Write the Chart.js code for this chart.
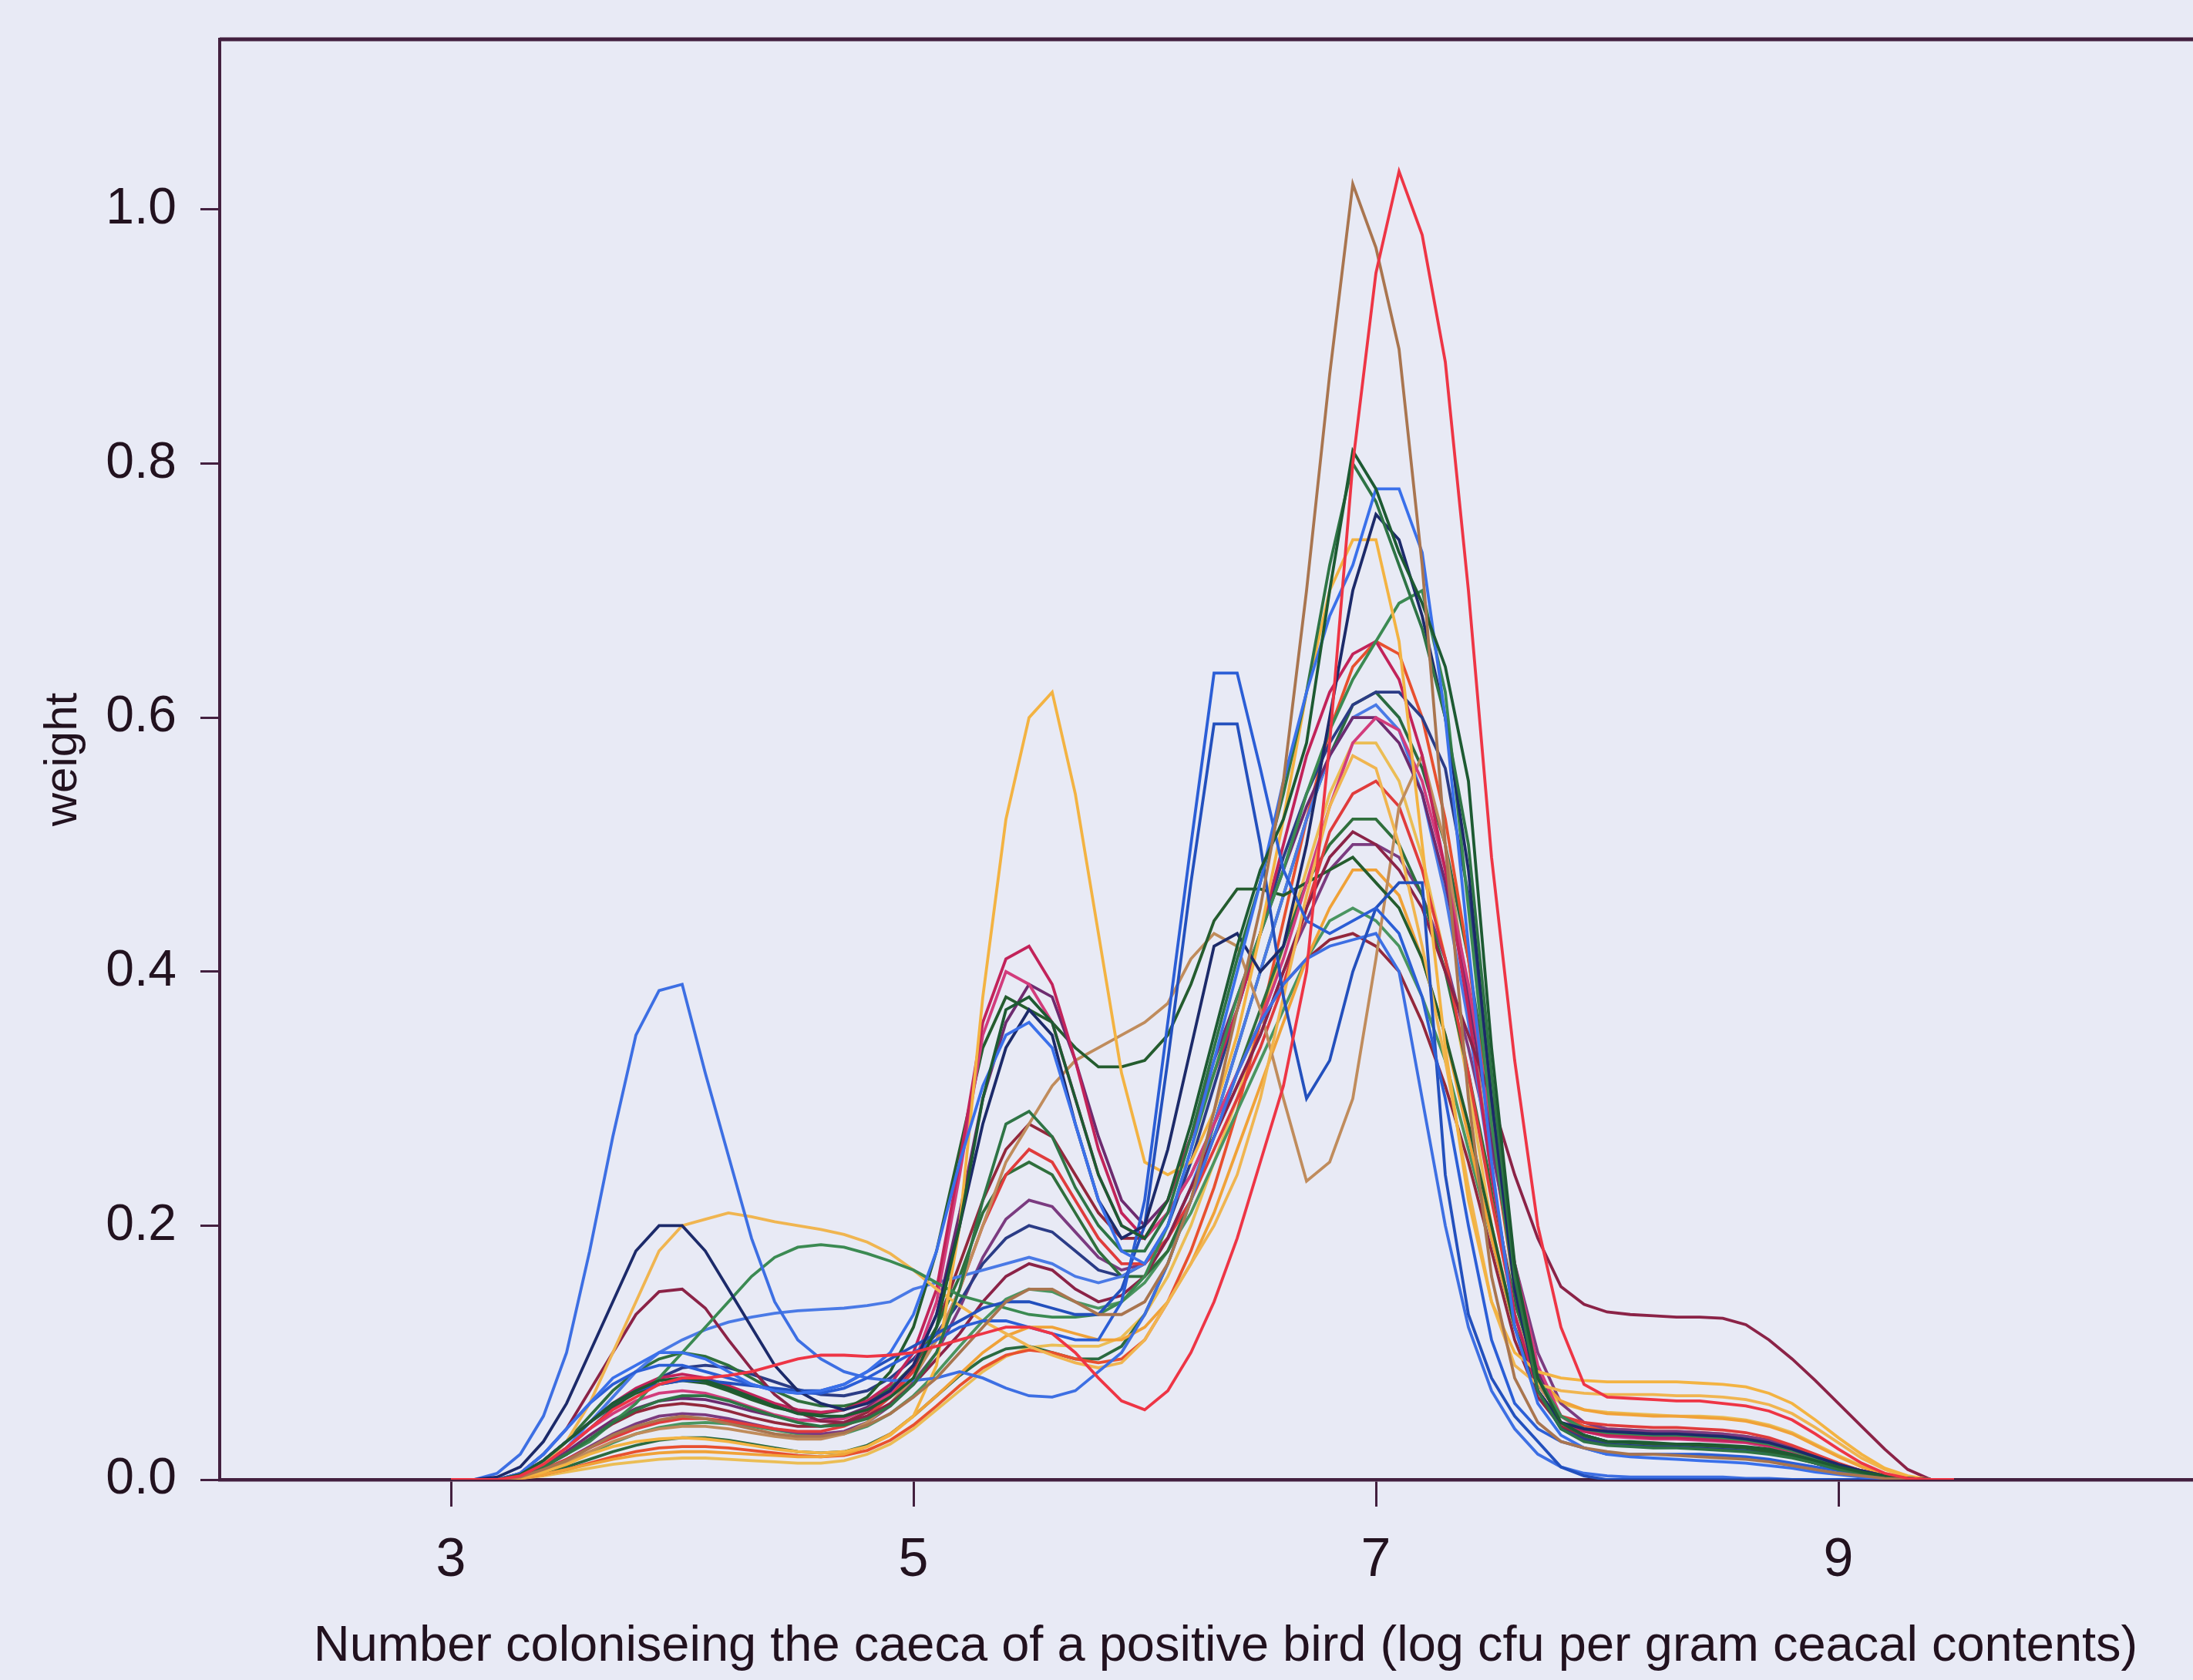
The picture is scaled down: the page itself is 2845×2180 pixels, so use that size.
<!DOCTYPE html>
<html>
<head>
<meta charset="utf-8">
<title>weight</title>
<script src="https://cdn.jsdelivr.net/npm/chart.js@4.4.1/dist/chart.umd.min.js"></script>
<style>
  html, body { margin: 0; padding: 0; background: #e8eaf5; overflow: hidden; }
  #densityChart { display: block; }
</style>
</head>
<body>
<canvas id="densityChart" width="2900" height="2180"></canvas>
<script>
// x grid (log cfu per gram) shared by every curve
const logCfu = [
  3.0, 3.1, 3.2, 3.3, 3.4, 3.5, 3.6, 3.7, 3.8, 3.9,
  4.0, 4.1, 4.2, 4.3, 4.4, 4.5, 4.6, 4.7, 4.8, 4.9,
  5.0, 5.1, 5.2, 5.3, 5.4, 5.5, 5.6, 5.7, 5.8, 5.9,
  6.0, 6.1, 6.2, 6.3, 6.4, 6.5, 6.6, 6.7, 6.8, 6.9,
  7.0, 7.1, 7.2, 7.3, 7.4, 7.5, 7.6, 7.7, 7.8, 7.9,
  8.0, 8.1, 8.2, 8.3, 8.4, 8.5, 8.6, 8.7, 8.8, 8.9,
  9.0, 9.1, 9.2, 9.3, 9.4, 9.5,
];
const xTicks = [3, 5, 7, 9];
const yTicks = [0, 0.2, 0.4, 0.6, 0.8, 1.0];

// one weight curve per bird
const blueEarly = [
  0, 0, 0.005, 0.02, 0.05, 0.1, 0.18, 0.27, 0.35, 0.385,
  0.39, 0.32, 0.255, 0.19, 0.14, 0.11, 0.095, 0.085, 0.08, 0.078,
  0.078, 0.08, 0.085, 0.08, 0.072, 0.066, 0.065, 0.07, 0.085, 0.1,
  0.13, 0.17, 0.22, 0.27, 0.32, 0.36, 0.39, 0.41, 0.42, 0.425,
  0.43, 0.4, 0.3, 0.2, 0.12, 0.07, 0.04, 0.02, 0.01, 0.005,
  0.003, 0.002, 0.002, 0.002, 0.002, 0.002, 0.001, 0.001, 0, 0,
  0, 0, 0, 0, 0, 0,
];
const blueHigh = [
  0, 0, 0, 0.005, 0.02, 0.04, 0.06, 0.075, 0.085, 0.09,
  0.09, 0.085, 0.08, 0.075, 0.07, 0.068, 0.068, 0.072, 0.08, 0.09,
  0.1, 0.11, 0.12, 0.125, 0.125, 0.12, 0.115, 0.11, 0.11, 0.14,
  0.22, 0.36, 0.5, 0.635, 0.635, 0.56, 0.48, 0.44, 0.43, 0.44,
  0.45, 0.43, 0.38, 0.3, 0.2, 0.11, 0.06, 0.04, 0.03, 0.025,
  0.02, 0.02, 0.02, 0.02, 0.02, 0.019, 0.018, 0.016, 0.013, 0.01,
  0.007, 0.004, 0.002, 0.001, 0, 0,
];
const blueTwin = [
  0, 0, 0, 0.004, 0.015, 0.03, 0.045, 0.06, 0.07, 0.075,
  0.078, 0.078, 0.076, 0.074, 0.072, 0.07, 0.07, 0.075, 0.085, 0.095,
  0.105, 0.115, 0.125, 0.135, 0.14, 0.14, 0.135, 0.13, 0.13, 0.15,
  0.2, 0.33, 0.47, 0.595, 0.595, 0.5, 0.38, 0.3, 0.33, 0.4,
  0.45, 0.47, 0.47, 0.24, 0.13, 0.08, 0.05, 0.03, 0.01, 0.003,
  0, 0, 0, 0, 0, 0, 0, 0, 0, 0,
  0, 0, 0, 0, 0, 0,
];
const blueMain = [
  0, 0, 0, 0.005, 0.02, 0.04, 0.06, 0.08, 0.09, 0.1,
  0.1, 0.095, 0.085, 0.075, 0.07, 0.068, 0.07, 0.075, 0.085, 0.1,
  0.13, 0.18, 0.25, 0.31, 0.35, 0.36, 0.34, 0.28, 0.22, 0.18,
  0.17, 0.2, 0.26, 0.33, 0.4, 0.47, 0.55, 0.62, 0.68, 0.72,
  0.78, 0.78, 0.73, 0.6, 0.42, 0.25, 0.12, 0.06, 0.035, 0.025,
  0.02, 0.018, 0.017, 0.016, 0.015, 0.014, 0.013, 0.011, 0.009, 0.006,
  0.004, 0.002, 0.001, 0, 0, 0,
];
const redTall = [
  0, 0, 0, 0.003, 0.012, 0.025, 0.04, 0.055, 0.065, 0.075,
  0.08, 0.08, 0.082, 0.085, 0.09, 0.095, 0.098, 0.098, 0.097, 0.098,
  0.1, 0.105, 0.11, 0.115, 0.12, 0.12, 0.115, 0.1, 0.08, 0.062,
  0.055, 0.07, 0.1, 0.14, 0.19, 0.25, 0.31, 0.4, 0.58, 0.8,
  0.95, 1.03, 0.98, 0.88, 0.7, 0.49, 0.33, 0.2, 0.12, 0.075,
  0.065, 0.064, 0.063, 0.062, 0.062, 0.06, 0.058, 0.054, 0.047, 0.036,
  0.024, 0.013, 0.005, 0.001, 0, 0,
];
const brownTall = [
  0, 0, 0, 0.002, 0.008, 0.015, 0.025, 0.035, 0.042, 0.047,
  0.05, 0.048, 0.044, 0.04, 0.036, 0.034, 0.034, 0.037, 0.043, 0.052,
  0.065, 0.08, 0.1, 0.12, 0.14, 0.15, 0.15, 0.14, 0.13, 0.13,
  0.14, 0.17, 0.22, 0.29, 0.37, 0.45, 0.55, 0.7, 0.87, 1.02,
  0.97, 0.89, 0.72, 0.5, 0.3, 0.16, 0.08, 0.045, 0.03, 0.025,
  0.022, 0.02, 0.02, 0.019, 0.018, 0.017, 0.016, 0.014, 0.011, 0.008,
  0.005, 0.003, 0.001, 0, 0, 0,
];
const greenDark = [
  0, 0, 0, 0.004, 0.015, 0.03, 0.045, 0.06, 0.07, 0.078,
  0.08, 0.078, 0.072, 0.065, 0.058, 0.052, 0.05, 0.05, 0.055, 0.065,
  0.08, 0.12, 0.2, 0.3, 0.37, 0.38, 0.36, 0.3, 0.24, 0.2,
  0.19, 0.22, 0.28, 0.35, 0.42, 0.48, 0.52, 0.58, 0.7, 0.81,
  0.78, 0.73, 0.69, 0.64, 0.55, 0.34, 0.17, 0.08, 0.045, 0.035,
  0.03, 0.03, 0.029, 0.028, 0.028, 0.027, 0.026, 0.024, 0.02, 0.015,
  0.01, 0.006, 0.003, 0.001, 0, 0,
];
const greenPeak = [
  0, 0, 0, 0.003, 0.01, 0.02, 0.032, 0.045, 0.055, 0.062,
  0.066, 0.066, 0.062, 0.056, 0.05, 0.045, 0.042, 0.043, 0.048, 0.058,
  0.075, 0.1, 0.15, 0.22, 0.28, 0.29, 0.27, 0.23, 0.2, 0.18,
  0.18, 0.21, 0.27, 0.34, 0.41, 0.47, 0.54, 0.62, 0.72, 0.8,
  0.77, 0.72, 0.67, 0.6, 0.5, 0.32, 0.16, 0.07, 0.04, 0.03,
  0.027, 0.026, 0.025, 0.025, 0.024, 0.023, 0.022, 0.02, 0.017, 0.013,
  0.008, 0.005, 0.002, 0.001, 0, 0,
];
const navyEarly = [
  0, 0, 0.002, 0.01, 0.03, 0.06, 0.1, 0.14, 0.18, 0.2,
  0.2, 0.18, 0.15, 0.12, 0.09, 0.07, 0.06, 0.055, 0.06, 0.07,
  0.09, 0.13, 0.2, 0.28, 0.34, 0.37, 0.35, 0.28, 0.22, 0.19,
  0.2, 0.26, 0.34, 0.42, 0.43, 0.4, 0.42, 0.5, 0.6, 0.7,
  0.76, 0.74, 0.68, 0.6, 0.48, 0.3, 0.15, 0.07, 0.045, 0.04,
  0.038, 0.037, 0.036, 0.036, 0.035, 0.034, 0.032, 0.029, 0.024, 0.018,
  0.012, 0.007, 0.003, 0.001, 0, 0,
];
const greenBroad = [
  0, 0, 0, 0.003, 0.01, 0.02, 0.03, 0.045, 0.06, 0.08,
  0.1, 0.12, 0.14, 0.16, 0.175, 0.183, 0.185, 0.183, 0.178, 0.172,
  0.165, 0.155, 0.145, 0.14, 0.135, 0.13, 0.128, 0.128, 0.13, 0.14,
  0.16, 0.2, 0.26, 0.32, 0.38, 0.43, 0.48, 0.54, 0.59, 0.63,
  0.66, 0.69, 0.7, 0.62, 0.45, 0.28, 0.15, 0.08, 0.05, 0.04,
  0.037, 0.036, 0.035, 0.035, 0.034, 0.033, 0.031, 0.028, 0.023, 0.017,
  0.011, 0.006, 0.003, 0.001, 0, 0,
];
const orangeTall = [
  0, 0, 0, 0.002, 0.006, 0.012, 0.02, 0.026, 0.03, 0.032,
  0.033, 0.032, 0.03, 0.027, 0.024, 0.022, 0.021, 0.022, 0.026, 0.035,
  0.05, 0.09, 0.2, 0.38, 0.52, 0.6, 0.62, 0.54, 0.43, 0.32,
  0.25, 0.24, 0.25, 0.29, 0.35, 0.43, 0.52, 0.62, 0.7, 0.74,
  0.74, 0.66, 0.5, 0.34, 0.22, 0.14, 0.1, 0.085, 0.08, 0.078,
  0.077, 0.077, 0.077, 0.077, 0.076, 0.075, 0.073, 0.068, 0.06, 0.047,
  0.033, 0.02, 0.009, 0.003, 0, 0,
];
const orangeEarly = [
  0, 0, 0, 0.003, 0.012, 0.03, 0.06, 0.1, 0.14, 0.18,
  0.2, 0.205, 0.21, 0.207, 0.203, 0.2, 0.197, 0.193, 0.187, 0.178,
  0.165, 0.15, 0.137, 0.125, 0.115, 0.105, 0.098, 0.092, 0.088, 0.092,
  0.11, 0.14, 0.17, 0.2, 0.24, 0.3, 0.38, 0.46, 0.53, 0.57,
  0.56, 0.5, 0.42, 0.33, 0.23, 0.14, 0.09, 0.075, 0.07, 0.068,
  0.067, 0.067, 0.067, 0.066, 0.066, 0.065, 0.063, 0.059, 0.052, 0.041,
  0.029, 0.017, 0.008, 0.002, 0, 0,
];
const maroonTail = [
  0, 0, 0, 0.005, 0.02, 0.04, 0.07, 0.1, 0.13, 0.148,
  0.15, 0.135, 0.11, 0.087, 0.067, 0.053, 0.046, 0.045, 0.05, 0.06,
  0.075, 0.095, 0.115, 0.14, 0.16, 0.17, 0.165, 0.15, 0.14, 0.145,
  0.16, 0.19, 0.23, 0.27, 0.31, 0.35, 0.4, 0.45, 0.49, 0.51,
  0.5, 0.48, 0.45, 0.4, 0.35, 0.3, 0.24, 0.19, 0.152, 0.138,
  0.132, 0.13, 0.129, 0.128, 0.128, 0.127, 0.122, 0.11, 0.095, 0.078,
  0.06, 0.042, 0.024, 0.008, 0, 0,
];
const crimsonMid = [
  0, 0, 0, 0.004, 0.015, 0.03, 0.045, 0.06, 0.072, 0.08,
  0.083, 0.08, 0.074, 0.067, 0.06, 0.055, 0.053, 0.055, 0.062, 0.075,
  0.1, 0.15, 0.25, 0.36, 0.41, 0.42, 0.39, 0.33, 0.26, 0.21,
  0.19, 0.22, 0.27, 0.32, 0.37, 0.43, 0.5, 0.57, 0.62, 0.65,
  0.66, 0.63, 0.57, 0.48, 0.37, 0.24, 0.13, 0.07, 0.045, 0.038,
  0.035, 0.034, 0.033, 0.033, 0.032, 0.031, 0.03, 0.027, 0.023, 0.017,
  0.011, 0.006, 0.003, 0.001, 0, 0,
];
const magentaMid = [
  0, 0, 0, 0.003, 0.012, 0.025, 0.04, 0.052, 0.062, 0.068,
  0.07, 0.068, 0.063, 0.057, 0.051, 0.047, 0.046, 0.048, 0.055, 0.068,
  0.09, 0.14, 0.24, 0.35, 0.4, 0.39, 0.36, 0.3, 0.24, 0.2,
  0.19, 0.21, 0.24, 0.28, 0.32, 0.36, 0.41, 0.47, 0.53, 0.58,
  0.6, 0.59, 0.55, 0.48, 0.39, 0.28, 0.17, 0.09, 0.05, 0.038,
  0.034, 0.033, 0.032, 0.032, 0.031, 0.03, 0.029, 0.026, 0.022, 0.016,
  0.01, 0.006, 0.003, 0.001, 0, 0,
];
const purpleMid = [
  0, 0, 0, 0.003, 0.01, 0.022, 0.035, 0.047, 0.056, 0.062,
  0.064, 0.063, 0.059, 0.054, 0.05, 0.047, 0.047, 0.05, 0.057, 0.07,
  0.09, 0.13, 0.21, 0.3, 0.36, 0.39, 0.38, 0.33, 0.27, 0.22,
  0.2, 0.22, 0.27, 0.33, 0.38, 0.43, 0.48, 0.53, 0.57, 0.6,
  0.6, 0.58, 0.54, 0.47, 0.38, 0.27, 0.16, 0.085, 0.05, 0.04,
  0.037, 0.036, 0.035, 0.035, 0.034, 0.033, 0.031, 0.028, 0.024, 0.018,
  0.012, 0.007, 0.003, 0.001, 0, 0,
];
const greenPlateau = [
  0, 0, 0, 0.004, 0.015, 0.03, 0.045, 0.058, 0.068, 0.075,
  0.078, 0.076, 0.07, 0.063, 0.057, 0.053, 0.052, 0.055, 0.065, 0.085,
  0.12, 0.18, 0.26, 0.34, 0.38, 0.37, 0.36, 0.34, 0.325, 0.325,
  0.33, 0.35, 0.39, 0.44, 0.465, 0.465, 0.46, 0.47, 0.48, 0.49,
  0.47, 0.45, 0.41, 0.35, 0.28, 0.2, 0.12, 0.07, 0.045, 0.035,
  0.03, 0.029, 0.028, 0.028, 0.027, 0.026, 0.025, 0.022, 0.019, 0.014,
  0.009, 0.005, 0.002, 0.001, 0, 0,
];
const tanDip = [
  0, 0, 0, 0.002, 0.007, 0.014, 0.022, 0.03, 0.036, 0.04,
  0.042, 0.042, 0.04, 0.037, 0.034, 0.032, 0.032, 0.036, 0.045, 0.06,
  0.08, 0.11, 0.15, 0.2, 0.25, 0.28, 0.31, 0.33, 0.34, 0.35,
  0.36, 0.375, 0.41, 0.43, 0.42, 0.37, 0.3, 0.235, 0.25, 0.3,
  0.41, 0.53, 0.57, 0.5, 0.38, 0.24, 0.13, 0.075, 0.05, 0.04,
  0.036, 0.035, 0.034, 0.034, 0.033, 0.032, 0.03, 0.027, 0.023, 0.017,
  0.011, 0.006, 0.003, 0.001, 0, 0,
];
const redMid = [
  0, 0, 0, 0.002, 0.008, 0.016, 0.025, 0.033, 0.04, 0.045,
  0.048, 0.048, 0.046, 0.043, 0.04, 0.038, 0.038, 0.042, 0.05, 0.065,
  0.085, 0.11, 0.15, 0.2, 0.24, 0.26, 0.25, 0.22, 0.19, 0.17,
  0.17, 0.19, 0.22, 0.26, 0.3, 0.34, 0.39, 0.45, 0.51, 0.54,
  0.55, 0.53, 0.48, 0.41, 0.32, 0.22, 0.13, 0.075, 0.05, 0.045,
  0.043, 0.042, 0.041, 0.041, 0.04, 0.039, 0.037, 0.033, 0.027, 0.02,
  0.013, 0.007, 0.003, 0.001, 0, 0,
];
const blueFlat = [
  0, 0, 0, 0.003, 0.012, 0.025, 0.045, 0.065, 0.085, 0.1,
  0.11, 0.118, 0.124, 0.128, 0.131, 0.133, 0.134, 0.135, 0.137, 0.14,
  0.15, 0.155, 0.16, 0.165, 0.17, 0.175, 0.17, 0.16, 0.155, 0.16,
  0.17, 0.19, 0.23, 0.28, 0.34, 0.4, 0.46, 0.52, 0.57, 0.6,
  0.61, 0.59, 0.54, 0.46, 0.36, 0.24, 0.13, 0.07, 0.045, 0.035,
  0.03, 0.029, 0.028, 0.028, 0.027, 0.026, 0.025, 0.023, 0.019, 0.014,
  0.009, 0.005, 0.002, 0.001, 0, 0,
];
const greenMid = [
  0, 0, 0, 0.004, 0.015, 0.03, 0.05, 0.07, 0.085, 0.095,
  0.1, 0.097, 0.09, 0.08, 0.07, 0.062, 0.058, 0.058, 0.062, 0.072,
  0.09, 0.12, 0.16, 0.21, 0.24, 0.25, 0.24, 0.21, 0.18, 0.16,
  0.16, 0.18, 0.22, 0.27, 0.32, 0.37, 0.42, 0.47, 0.5, 0.52,
  0.52, 0.5, 0.46, 0.4, 0.32, 0.23, 0.14, 0.08, 0.05, 0.04,
  0.036, 0.035, 0.034, 0.034, 0.033, 0.032, 0.03, 0.027, 0.023, 0.017,
  0.011, 0.006, 0.003, 0.001, 0, 0,
];
const navyLate = [
  0, 0, 0, 0.003, 0.012, 0.025, 0.04, 0.056, 0.07, 0.08,
  0.088, 0.09, 0.088, 0.083, 0.077, 0.071, 0.067, 0.066, 0.07, 0.08,
  0.095, 0.115, 0.14, 0.17, 0.19, 0.2, 0.195, 0.18, 0.165, 0.16,
  0.17, 0.2, 0.25, 0.31, 0.37, 0.43, 0.49, 0.54, 0.58, 0.61,
  0.62, 0.62, 0.6, 0.56, 0.46, 0.3, 0.15, 0.07, 0.04, 0.032,
  0.028, 0.027, 0.026, 0.026, 0.025, 0.024, 0.023, 0.021, 0.018, 0.013,
  0.008, 0.005, 0.002, 0.001, 0, 0,
];
const orangeLow = [
  0, 0, 0, 0.001, 0.004, 0.008, 0.012, 0.016, 0.019, 0.021,
  0.022, 0.022, 0.021, 0.02, 0.019, 0.018, 0.018, 0.02, 0.026, 0.036,
  0.05, 0.066, 0.083, 0.1, 0.113, 0.12, 0.12, 0.115, 0.11, 0.11,
  0.12, 0.14, 0.17, 0.21, 0.26, 0.31, 0.36, 0.41, 0.45, 0.48,
  0.48, 0.46, 0.41, 0.35, 0.27, 0.19, 0.12, 0.08, 0.062, 0.055,
  0.052, 0.051, 0.05, 0.05, 0.049, 0.048, 0.046, 0.042, 0.036, 0.027,
  0.018, 0.01, 0.004, 0.001, 0, 0,
];
const purpleLow = [
  0, 0, 0, 0.002, 0.008, 0.016, 0.026, 0.036, 0.044, 0.05,
  0.052, 0.051, 0.048, 0.044, 0.04, 0.037, 0.036, 0.038, 0.045, 0.058,
  0.077, 0.1, 0.135, 0.175, 0.205, 0.22, 0.215, 0.195, 0.175, 0.165,
  0.17, 0.19, 0.23, 0.27, 0.31, 0.35, 0.4, 0.44, 0.48, 0.5,
  0.5, 0.49, 0.46, 0.41, 0.34, 0.26, 0.17, 0.1, 0.06, 0.045,
  0.04, 0.039, 0.038, 0.038, 0.037, 0.036, 0.034, 0.031, 0.026, 0.019,
  0.012, 0.007, 0.003, 0.001, 0, 0,
];
const greenLight = [
  0, 0, 0, 0.002, 0.006, 0.013, 0.021, 0.029, 0.036, 0.041,
  0.044, 0.045, 0.044, 0.042, 0.039, 0.036, 0.035, 0.036, 0.042, 0.052,
  0.066, 0.084, 0.105, 0.125, 0.142, 0.15, 0.148, 0.14, 0.135, 0.14,
  0.155, 0.18, 0.21, 0.25, 0.29, 0.33, 0.37, 0.41, 0.44, 0.45,
  0.44, 0.42, 0.38, 0.33, 0.26, 0.19, 0.12, 0.07, 0.045, 0.035,
  0.03, 0.029, 0.028, 0.028, 0.027, 0.026, 0.025, 0.022, 0.019, 0.014,
  0.009, 0.005, 0.002, 0.001, 0, 0,
];
const maroonLow = [
  0, 0, 0, 0.003, 0.01, 0.02, 0.032, 0.044, 0.053, 0.058,
  0.06, 0.058, 0.054, 0.049, 0.045, 0.042, 0.042, 0.045, 0.053, 0.067,
  0.088, 0.12, 0.17, 0.22, 0.26, 0.28, 0.27, 0.24, 0.21, 0.19,
  0.19, 0.21, 0.24, 0.28, 0.32, 0.36, 0.39, 0.41, 0.425, 0.43,
  0.42, 0.4, 0.36, 0.31, 0.25, 0.18, 0.11, 0.065, 0.042, 0.032,
  0.028, 0.027, 0.026, 0.026, 0.025, 0.024, 0.023, 0.021, 0.018, 0.013,
  0.008, 0.005, 0.002, 0.001, 0, 0,
];
const redLow = [
  0, 0, 0, 0.001, 0.004, 0.008, 0.013, 0.018, 0.022, 0.025,
  0.026, 0.026, 0.025, 0.023, 0.021, 0.019, 0.018, 0.019, 0.023, 0.031,
  0.043, 0.058, 0.074, 0.088, 0.098, 0.102, 0.1, 0.095, 0.092, 0.095,
  0.11, 0.14, 0.18, 0.23, 0.29, 0.36, 0.44, 0.52, 0.59, 0.64,
  0.66, 0.65, 0.6, 0.52, 0.41, 0.27, 0.15, 0.08, 0.05, 0.042,
  0.04, 0.039, 0.038, 0.038, 0.037, 0.036, 0.034, 0.031, 0.026, 0.019,
  0.012, 0.007, 0.003, 0.001, 0, 0,
];
const greenLow = [
  0, 0, 0, 0.001, 0.005, 0.01, 0.016, 0.022, 0.027, 0.031,
  0.033, 0.033, 0.031, 0.028, 0.025, 0.022, 0.021, 0.022, 0.027, 0.036,
  0.05, 0.066, 0.082, 0.095, 0.103, 0.105, 0.1, 0.095, 0.095, 0.105,
  0.13, 0.17, 0.22, 0.28, 0.34, 0.4, 0.46, 0.52, 0.57, 0.61,
  0.62, 0.6, 0.56, 0.5, 0.41, 0.29, 0.16, 0.08, 0.045, 0.033,
  0.028, 0.027, 0.026, 0.026, 0.025, 0.024, 0.023, 0.021, 0.018, 0.013,
  0.008, 0.005, 0.002, 0.001, 0, 0,
];
const yellowLow = [
  0, 0, 0, 0.001, 0.003, 0.006, 0.009, 0.012, 0.014, 0.016,
  0.017, 0.017, 0.016, 0.015, 0.014, 0.013, 0.013, 0.015, 0.02, 0.028,
  0.04, 0.055, 0.07, 0.085, 0.097, 0.104, 0.106, 0.105, 0.105, 0.112,
  0.13, 0.16, 0.2, 0.25, 0.3, 0.36, 0.42, 0.48, 0.54, 0.58,
  0.58, 0.55, 0.49, 0.41, 0.31, 0.2, 0.12, 0.075, 0.06, 0.055,
  0.053, 0.052, 0.051, 0.05, 0.05, 0.049, 0.047, 0.043, 0.037, 0.028,
  0.019, 0.011, 0.005, 0.001, 0, 0,
];

const curves = [
  redTall, brownTall, greenDark, blueMain, greenPeak, navyEarly, blueHigh, blueTwin,
  blueEarly, orangeTall, greenBroad, orangeEarly, maroonTail, crimsonMid, magentaMid,
  purpleMid, greenPlateau, tanDip, redMid, blueFlat, greenMid, navyLate, orangeLow,
  purpleLow, greenLight, maroonLow, redLow, greenLow, yellowLow,
];
const lineColors = [
  "#ee3545", "#a9754f", "#1d5a32", "#3a70ea", "#2e7445", "#1c2a6a", "#2b5ed6", "#2350bd",
  "#3d6fe3", "#f3b342", "#3b8a52", "#f0b550", "#8b2347", "#c2235a", "#d23c7c",
  "#6d2b6f", "#245c2e", "#c08c5c", "#e03c3c", "#4a7ae6", "#2f6f3c", "#2b3c86", "#f0a238",
  "#7b3b80", "#4a9560", "#93283c", "#e8502f", "#2a6a40", "#ebbd55",
];

const axisColor = "#43203f";
const textColor = "#22121f";
const fontFamily = "'Liberation Sans', Arial, sans-serif";

const datasets = curves.map((vals, i) => ({
  data: vals.map((y, j) => ({ x: logCfu[j], y })),
  borderColor: lineColors[i],
  borderWidth: 3.8,
  pointRadius: 0,
  tension: 0,
  fill: false,
}));

// closes the box along the top and right like the plotting device does
const frameBox = {
  id: "frameBox",
  afterDraw(chart) {
    const { ctx, chartArea } = chart;
    ctx.save();
    ctx.strokeStyle = axisColor;
    ctx.lineWidth = 5;
    ctx.beginPath();
    ctx.moveTo(chartArea.left, chartArea.top);
    ctx.lineTo(chartArea.right, chartArea.top);
    ctx.lineTo(chartArea.right, chartArea.bottom);
    ctx.stroke();
    ctx.restore();
  },
};

new Chart(document.getElementById("densityChart"), {
  type: "line",
  data: { datasets },
  plugins: [frameBox],
  options: {
    responsive: false,
    animation: false,
    devicePixelRatio: 1,
    layout: { padding: { top: 51, right: 5, bottom: 0, left: 0 } },
    plugins: { legend: { display: false }, tooltip: { enabled: false } },
    scales: {
      x: {
        type: "linear",
        min: 2,
        max: 10.7,
        afterBuildTicks: (scale) => {
          scale.ticks = xTicks.map((v) => ({ value: v }));
        },
        afterFit: (scale) => {
          scale.height = 260;
          scale.paddingLeft = 0;
          scale.paddingRight = 0;
        },
        grid: { drawOnChartArea: false, tickLength: 35, tickWidth: 3, tickColor: axisColor },
        border: { color: axisColor, width: 4.5 },
        ticks: {
          color: textColor,
          padding: 29,
          maxRotation: 0,
          font: { family: fontFamily, size: 70 },
          callback: (v) => String(v),
        },
        title: {
          display: true,
          text: "Number coloniseing the caeca of a positive bird (log cfu per gram ceacal contents)",
          color: textColor,
          font: { family: fontFamily, size: 65 },
          padding: { top: 0, bottom: 4 },
        },
      },
      y: {
        min: 0,
        max: 1.134,
        afterBuildTicks: (scale) => {
          scale.ticks = yTicks.map((v) => ({ value: v }));
        },
        afterFit: (scale) => {
          scale.width = 285;
          scale.paddingTop = 0;
          scale.paddingBottom = 0;
        },
        grid: { drawOnChartArea: false, tickLength: 25, tickWidth: 3, tickColor: axisColor },
        border: { color: axisColor, width: 4 },
        ticks: {
          color: textColor,
          padding: 31,
          font: { family: fontFamily, size: 66 },
          callback: (v) => v.toFixed(1),
        },
        title: {
          display: true,
          text: "weight",
          color: textColor,
          font: { family: fontFamily, size: 60 },
          padding: { top: 46, bottom: 0 },
        },
      },
    },
  },
});
</script>
</body>
</html>
